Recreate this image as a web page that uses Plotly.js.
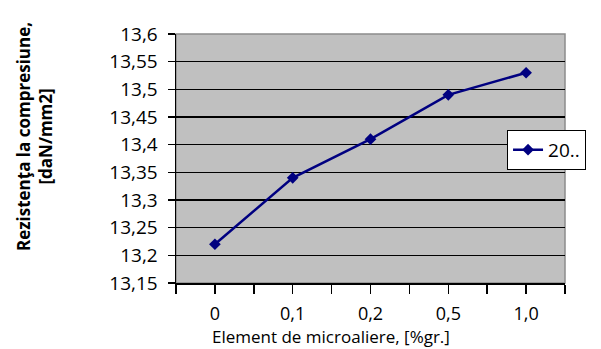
<!DOCTYPE html>
<html><head><meta charset="utf-8">
<script src="https://cdn.plot.ly/plotly-3.0.1.min.js"></script>
<style>html,body{margin:0;padding:0;background:#fff}</style>
</head><body>
<div id="chart" style="width:601px;height:349px"></div>
<script>
const categories = ["0", "0,1", "0,2", "0,5", "1,0"];
const values = [13.22, 13.34, 13.41, 13.49, 13.53];
const seriesName = "20..";
const yTickVals = [13.15, 13.2, 13.25, 13.3, 13.35, 13.4, 13.45, 13.5, 13.55, 13.6];
const yTickText = ["13,15", "13,2", "13,25", "13,3", "13,35", "13,4", "13,45", "13,5", "13,55", "13,6"];
const xTitle = "Element de microaliere, [%gr.]";
const yTitle = "<b>Rezistenţa la compresiune,<br>[daN/mm2]</b>";

const xIdx = categories.map((c, i) => i);
const xTickVals = [];
const xTickText = [];
for (let i = 0; i < categories.length; i++) {
  xTickVals.push(i - 0.5); xTickText.push("");
  xTickVals.push(i); xTickText.push(categories[i]);
}
xTickVals.push(categories.length - 0.5); xTickText.push("");

const font = "'Open Sans', Lato, sans-serif";
const trace = {
  x: xIdx, y: values, type: "scatter", mode: "lines+markers", name: seriesName,
  line: {color: "#000080", width: 2.5},
  marker: {symbol: "diamond", size: 9, color: "#000080"}
};
const layout = {
  width: 601, height: 349,
  margin: {l: 176, r: 36, t: 34, b: 66},
  paper_bgcolor: "#ffffff", plot_bgcolor: "#c0c0c0",
  font: {family: font, color: "#000", size: 17},
  showlegend: true,
  legend: {x: 0.851, y: 0.615, xanchor: "left", yanchor: "top",
    bgcolor: "#ffffff", bordercolor: "#000", borderwidth: 1,
    font: {family: font, size: 19, color: "#000"}, itemwidth: 30, tracegroupgap: 0},
  xaxis: {range: [-0.5, categories.length - 0.5], tickmode: "array",
    tickvals: xTickVals, ticktext: xTickText, ticks: "outside", ticklen: 9,
    tickcolor: "#000", tickwidth: 1.5, showline: true, linecolor: "#000", linewidth: 1.5,
    showgrid: false, zeroline: false, fixedrange: true,
    ticklabelstandoff: 5,
    tickfont: {family: font, size: 18}},
  yaxis: {range: [13.15, 13.6], tickmode: "array", tickvals: yTickVals, ticktext: yTickText,
    ticks: "outside", ticklen: 7, tickcolor: "#000", tickwidth: 1.5,
    showline: true, linecolor: "#000", linewidth: 1.5,
    showgrid: true, gridcolor: "#000", gridwidth: 1.2, zeroline: false,
    ticklabelstandoff: 6,
    tickfont: {family: font, size: 19}},
  annotations: [
    {text: xTitle, xref: "paper", yref: "paper", x: (331 - 176) / 389, y: -(336 - 283) / 249,
      xanchor: "center", yanchor: "middle", showarrow: false, font: {family: font, size: 17}},
    {text: yTitle, xref: "paper", yref: "paper", x: (34 - 176) / 389, y: (283 - 137) / 249,
      xanchor: "center", yanchor: "middle", showarrow: false, textangle: -90,
      font: {family: font, size: 17}}
  ],
  shapes: [{type: "rect", xref: "paper", yref: "paper", x0: 0, x1: 1, y0: 0, y1: 1,
    line: {color: "#8c8c8c", width: 1.5}, layer: "below"}]
};
Plotly.newPlot("chart", [trace], layout, {displayModeBar: false, staticPlot: true});
</script>
</body></html>
